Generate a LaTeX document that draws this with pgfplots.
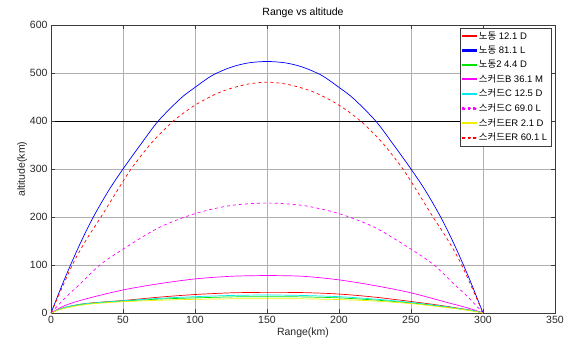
\documentclass[border=0pt]{standalone}
\usepackage{pgfplots}
\pgfplotsset{compat=1.18}
\usepackage{fontspec}
\setmainfont{Liberation Sans}
\newfontfamily\kr{Noto Sans CJK KR}
\definecolor{axgray}{RGB}{60,60,60}
\definecolor{gridgray}{RGB}{175,175,175}
\definecolor{cR}{RGB}{255,0,0}
\definecolor{cB}{RGB}{0,0,255}
\definecolor{cG}{RGB}{0,230,0}
\definecolor{cM}{RGB}{255,0,255}
\definecolor{cC}{RGB}{0,235,235}
\definecolor{cY}{RGB}{240,240,0}
\begin{document}
\begin{tikzpicture}[x=1pt,y=1pt]
\begin{axis}[
  at={(0,0)}, anchor=south west,
  scale only axis, width=504pt, height=288pt,
  xmin=0, xmax=350, ymin=0, ymax=600,
  xtick={0,50,...,350}, ytick={0,100,...,600},
  extra y ticks={400}, extra y tick labels={},
  extra y tick style={grid style={black, line width=0.6pt}},
  grid=major, grid style={gridgray, line width=0.5pt},
  axis line style={axgray, line width=0.8pt},
  tick style={axgray, line width=0.6pt},
  tick align=inside, major tick length=4pt,
  xtick pos=both, ytick pos=both,
  xticklabel pos=lower, yticklabel pos=left,
  /pgf/number format/assume math mode=true,
  ticklabel style={font=\fontsize{10.5}{12}\selectfont, color=black!85},
  title={Range vs altitude},
  title style={font=\fontsize{10.5}{12}\selectfont, yshift=-2pt},
  xlabel={Range(km)}, ylabel={altitude(km)},
  label style={font=\fontsize{10.5}{12}\selectfont, color=black!85},
  xlabel style={yshift=3pt}, ylabel style={yshift=-4pt},
  legend style={at={(0.992,0.99)}, anchor=north east, draw=axgray, fill=white,
    font=\fontsize{9.5}{11}\selectfont, row sep=1.3pt, inner sep=1.5pt,
    legend cell align=left},
  every axis plot/.append style={line width=0.7pt},
]
% 노동 12.1 D
\addplot[draw=cR, smooth, tension=0.5, legend image code/.code={\fill[cR] (0pt,-0.6pt) rectangle (14pt,0.6pt);}] coordinates {(0,0) (5,7) (10,12) (20,18) (30,21.5) (50,26) (75,33) (100,38.5) (125,42) (150,43) (175,42.5) (200,39.5) (225,33) (250,24) (270,16) (285,9) (295,4) (300,0)};
\addlegendentry{{\kr 노동} 12.1 D}
% 노동 81.1 L
\addplot[draw=cB, smooth, tension=0.5, legend image code/.code={\fill[cB] (0pt,-0.6pt) rectangle (14pt,0.6pt);}] coordinates {(0,0) (10,75) (20,143) (29.4,200) (40,255) (50,300) (62,350) (74.5,400) (90,447) (100,470) (112,495) (125,512) (137,521) (150,524) (163,521) (175,512) (188,495) (200,470) (210,447) (225.5,400) (238,350) (250,300) (260,255) (270.6,200) (280,143) (290,75) (300,0)};
\addlegendentry{{\kr 노동} 81.1 L}
% 노동2 4.4 D
\addplot[draw=cG, smooth, tension=0.5, legend image code/.code={\fill[cG] (0pt,-0.6pt) rectangle (14pt,0.6pt);}] coordinates {(0,0) (5,6.5) (10,11) (20,17) (30,20.5) (50,25) (75,29) (100,31.5) (125,33.5) (150,34) (175,33.5) (200,31.5) (225,27) (250,21) (270,14) (285,8) (295,3.5) (300,0)};
\addlegendentry{{\kr 노동}2 4.4 D}
% 스커드B 36.1 M
\addplot[draw=cM, smooth, tension=0.5, legend image code/.code={\fill[cM] (0pt,-0.6pt) rectangle (14pt,0.6pt);}] coordinates {(0,0) (10,16) (25,30) (50,48) (75,61) (100,71) (125,76.5) (150,78) (175,76.5) (200,69) (225,57) (250,42) (275,22) (290,10) (300,0)};
\addlegendentry{{\kr 스커드}B 36.1 M}
% 스커드C 12.5 D
\addplot[draw=cC, smooth, tension=0.5, legend image code/.code={\fill[cC] (0pt,-0.6pt) rectangle (14pt,0.6pt);}] coordinates {(0,0) (5,7) (10,12) (20,18) (30,21) (50,25.5) (75,30.5) (100,34) (125,36.5) (150,37.5) (175,36.5) (200,34) (225,29) (250,22) (270,15) (285,8.5) (295,4) (300,0)};
\addlegendentry{{\kr 스커드}C 12.5 D}
% 스커드C 69.0 L
\addplot[draw=cM, dashed, smooth, tension=0.5, legend image code/.code={\fill[cM] (0pt,-0.6pt) rectangle (3pt,0.6pt) (5.5pt,-0.6pt) rectangle (8.5pt,0.6pt) (11pt,-0.6pt) rectangle (14pt,0.6pt);}] coordinates {(0,0) (10,32) (20,60) (34,100) (50,133) (75,178) (100,207) (125,224) (150,229) (175,224) (200,207) (225,178) (250,133) (266,100) (280,60) (290,32) (300,0)};
\addlegendentry{{\kr 스커드}C 69.0 L}
% 스커드ER 2.1 D
\addplot[draw=cY, smooth, tension=0.5, legend image code/.code={\fill[cY] (0pt,-0.6pt) rectangle (14pt,0.6pt);}] coordinates {(0,0) (5,6) (10,10.5) (20,16) (30,19.5) (50,23.5) (75,26.5) (100,28.5) (125,29.5) (150,29.5) (175,29.5) (200,28) (225,25) (250,19.5) (270,13) (285,7.5) (295,3) (300,0)};
\addlegendentry{{\kr 스커드}ER 2.1 D}
% 스커드ER 60.1 L
\addplot[draw=cR, dashed, smooth, tension=0.5, legend image code/.code={\fill[cR] (0pt,-0.6pt) rectangle (3pt,0.6pt) (5.5pt,-0.6pt) rectangle (8.5pt,0.6pt) (11pt,-0.6pt) rectangle (14pt,0.6pt);}] coordinates {(0,0) (14.8,100) (25,155) (34.7,200) (45,250) (55.6,300) (70,355) (85,400) (100,433) (115,457) (125,468) (137,477) (150,481) (163,477) (175,468) (185,457) (200,433) (215,400) (230,355) (244.4,300) (255,250) (265.3,200) (275,155) (285.2,100) (300,0)};
\addlegendentry{{\kr 스커드}ER 60.1 L}
\end{axis}
\path[use as bounding box] (-51,-38) rectangle (517,313);
\end{tikzpicture}
\end{document}
